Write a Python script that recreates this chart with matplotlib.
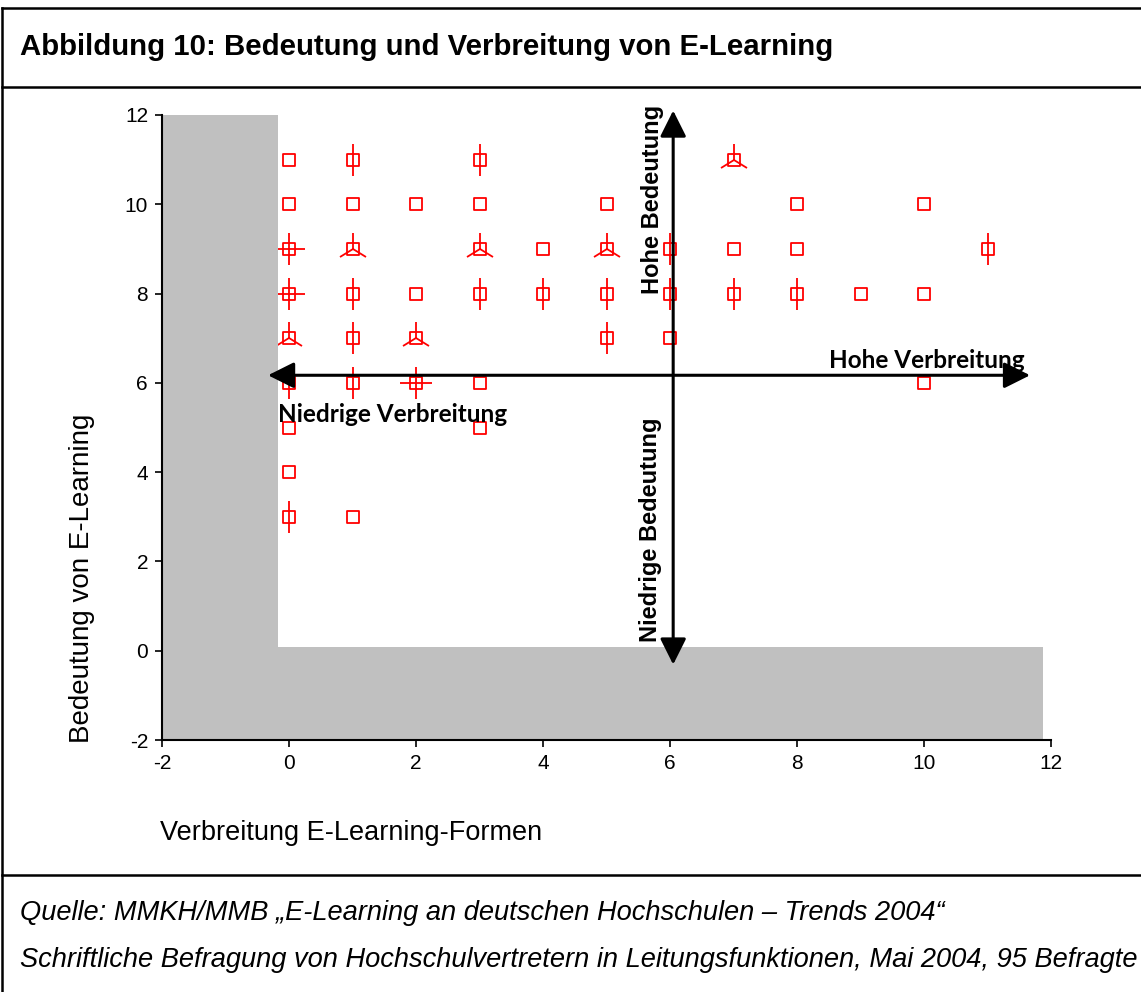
import matplotlib
matplotlib.use("Agg")
import matplotlib.pyplot as plt
from matplotlib.patches import Rectangle, FancyArrowPatch
from matplotlib.lines import Line2D
from matplotlib.markers import MarkerStyle

plt.rcParams['font.family'] = ['Liberation Sans', 'DejaVu Sans']

# Sunflower plot data: (Verbreitung, Bedeutung, Anzahl)
x_vals = [0, 1, 3, 7,
          0, 1, 2, 3, 5, 8, 10,
          0, 1, 3, 4, 5, 6, 7, 8, 11,
          0, 1, 2, 3, 4, 5, 6, 7, 8, 9, 10,
          0, 1, 2, 5, 6,
          0, 1, 2, 3, 10,
          0, 3,
          0,
          0, 1]
y_vals = [11, 11, 11, 11,
          10, 10, 10, 10, 10, 10, 10,
          9, 9, 9, 9, 9, 9, 9, 9, 9,
          8, 8, 8, 8, 8, 8, 8, 8, 8, 8, 8,
          7, 7, 7, 7, 7,
          6, 6, 6, 6, 6,
          5, 5,
          4,
          3, 3]
counts = [1, 2, 2, 3,
          1, 1, 1, 1, 1, 1, 1,
          4, 3, 3, 1, 3, 2, 1, 1, 2,
          4, 2, 1, 2, 2, 2, 2, 2, 2, 1, 1,
          3, 2, 3, 2, 1,
          2, 2, 4, 1, 1,
          1, 1,
          1,
          2, 1]

x_ticks = [-2, 0, 2, 4, 6, 8, 10, 12]
y_ticks = [-2, 0, 2, 4, 6, 8, 10, 12]
x_ticklabels = ['-2', '0', '2', '4', '6', '8', '10', '12']
y_ticklabels = ['-2', '0', '2', '4', '6', '8', '10', '12']

W, H = 1141, 992
fig = plt.figure(figsize=(W / 100, H / 100), dpi=100)
ax = fig.add_axes([162 / W, 1 - 740 / H, (1051 - 162) / W, (740 - 115) / H])

red = '#ff0000'
square = MarkerStyle('s', fillstyle='none', joinstyle='round')
petal_marker = {2: '|', 3: '2', 4: '+'}
for xv, yv, c in zip(x_vals, y_vals, counts):
    ax.plot([xv], [yv], marker=square, ms=8.8, mec=red, mew=1.3,
            linestyle='none', zorder=3)
    if c > 1:
        ax.plot([xv], [yv], marker=petal_marker[c], ms=23, mec=red, mew=1.3,
                linestyle='none', zorder=3)

# grey L-shaped region
grey = '#c0c0c0'
ax.add_patch(Rectangle((-1.98, -2), 1.81, 14, facecolor=grey, edgecolor='none', zorder=4))
ax.add_patch(Rectangle((-1.98, -2), 13.85, 2.09, facecolor=grey, edgecolor='none', zorder=4))

ax.set_xlim(-2, 12)
ax.set_ylim(-2, 12)
ax.set_xticks(x_ticks)
ax.set_xticklabels(x_ticklabels)
ax.set_yticks(y_ticks)
ax.set_yticklabels(y_ticklabels)
ax.tick_params(labelsize=15, length=5, width=1.2, direction='out', pad=5)
for s in ['top', 'right']:
    ax.spines[s].set_visible(False)
for s in ['left', 'bottom']:
    ax.spines[s].set_linewidth(1.5)
    ax.spines[s].set_zorder(5)

# quadrant arrows
arrow_kw = dict(arrowstyle='<|-|>,head_length=0.8,head_width=0.4', mutation_scale=20,
                color='black', lw=2.2, shrinkA=0, shrinkB=0, zorder=6, clip_on=False)
ax.add_patch(FancyArrowPatch((-0.33, 6.17), (11.67, 6.17), **arrow_kw))
ax.add_patch(FancyArrowPatch((6.05, -0.31), (6.05, 12.1), **arrow_kw))

ax.text(5.72, 10.1, 'Hohe Bedeutung', rotation=90, ha='center', va='center',
        fontsize=17, fontweight='bold', zorder=7, clip_on=False)
ax.text(5.70, 2.7, 'Niedrige Bedeutung', rotation=90, ha='center', va='center',
        fontsize=17, fontweight='bold', zorder=7, clip_on=False)
ax.text(11.59, 6.5, 'Hohe Verbreitung', ha='right', va='center',
        fontsize=17.5, fontweight='bold', family=['Lato', 'DejaVu Sans'], zorder=7)
ax.text(-0.17, 5.3, 'Niedrige Verbreitung', ha='left', va='center',
        fontsize=17.5, fontweight='bold', family=['Lato', 'DejaVu Sans'], zorder=7)

# axis titles
fig.text(82 / W, 1 - 578 / H, 'Bedeutung von E-Learning', rotation=90,
         ha='center', va='center', fontsize=20)
fig.text(160 / W, 1 - 833 / H, 'Verbreitung E-Learning-Formen',
         ha='left', va='center', fontsize=19.5)

# header / footer
fig.text(20 / W, 1 - 47 / H, 'Abbildung 10: Bedeutung und Verbreitung von E-Learning',
         ha='left', va='center', fontsize=21.2, fontweight='bold')
fig.text(20 / W, 1 - 913 / H,
         'Quelle: MMKH/MMB \u201eE-Learning an deutschen Hochschulen \u2013 Trends 2004\u201c',
         ha='left', va='center', fontsize=19.6, style='italic')
fig.text(20 / W, 1 - 960 / H,
         'Schriftliche Befragung von Hochschulvertretern in Leitungsfunktionen, Mai 2004, 95 Befragte',
         ha='left', va='center', fontsize=19.6, style='italic')

# frame lines
line_kw = dict(color='black', lw=1.8, transform=fig.transFigure)
fig.add_artist(Line2D([2 / W, 2 / W], [0, 1 - 8 / H], **line_kw))
fig.add_artist(Line2D([2 / W, 1], [1 - 8 / H, 1 - 8 / H], **line_kw))
fig.add_artist(Line2D([2 / W, 1], [1 - 87 / H, 1 - 87 / H], **line_kw))
fig.add_artist(Line2D([2 / W, 1], [1 - 875 / H, 1 - 875 / H], **line_kw))

fig.savefig('out.png', dpi=100)
